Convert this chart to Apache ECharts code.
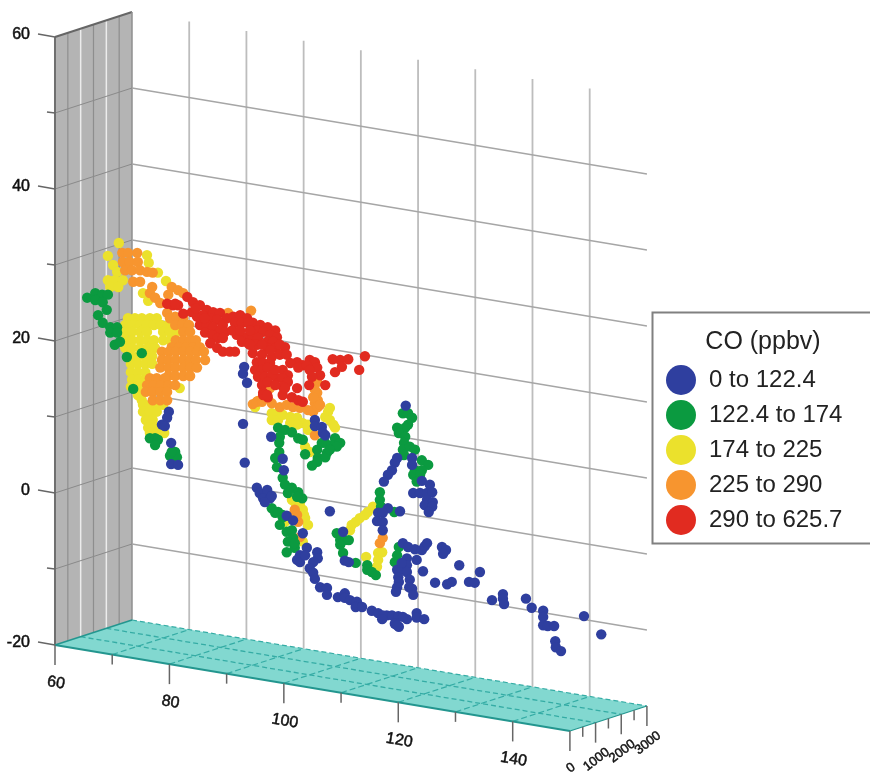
<!DOCTYPE html>
<html><head><meta charset="utf-8">
<style>html,body{margin:0;padding:0;background:#fff}#c{width:870px;height:775px}</style>
<script src="https://cdn.jsdelivr.net/npm/echarts@6/dist/echarts.min.js"></script>
</head><body><div id="c"></div>
<script>
// Axis ticks
const lonTicks=[60,70,80,90,100,110,120,130,140,150];
const lonLabels=[60,80,100,120,140];
const latTicks=[-20,-10,0,10,20,30,40,50,60];
const latLabels=[-20,0,20,40,60];
const altTicks=[0,500,1000,1500,2000,2500,3000];
const altLabels=[0,1000,2000,3000];
const legendNames=['0 to 122.4','122.4 to 174','174 to 225','225 to 290','290 to 625.7'];
// CO samples: [longitude, latitude]
const coBlue=[[120.5,-6.6],[121.4,-7.1],[122.6,-7.4],[123.8,-7.5],[124.3,-7],[124.7,-6.6],[127.3,-7.1],[128,-7.5],[127.5,-8],[130.3,-9.5],[133.9,-10.4],[126.1,-11.8],[128.2,-12],[129,-11.7],[132,-11.7],[133,-11.8],[136,-14.1],[137.9,-13.3],[137.9,-13.9],[138.1,-14.6],[141.9,-13.9],[142.9,-15.1],[144.9,-15.5],[144.9,-16.3],[144.9,-17.4],[145.7,-17.5],[146.8,-17.5],[152,-16.2],[155,-18.6],[147,-19.5],[147.1,-20.3],[148,-20.8],[122.9,-8.8],[124,-10.3],[121.2,-8.6],[121.2,-9.5],[119.5,-10.1],[120.3,-10.1],[121.2,-10.4],[119.7,-11.1],[119.8,-11.7],[119.5,-12.4],[119.3,-13],[121.7,-11.4],[121.6,-12.4],[122.1,-12.6],[122.3,-13.4],[120.3,-9.2],[117.7,-16.1],[118.6,-16.1],[119.7,-16.2],[121.2,-16.6],[119.1,-17.2],[119.8,-17.6],[122.9,-15.8],[122.9,-16.4],[124.2,-16.6],[106.1,-12.4],[107.3,-12.5],[107.3,-13.4],[109.2,-13.7],[110.4,-13.2],[110.4,-13.8],[111.3,-14.1],[112.5,-14.3],[112.3,-15],[113.4,-15],[115.1,-15.5],[116.2,-15.8],[117,-16.1],[116.9,-16.6],[120.5,-16.3],[119.5,-17.4],[102.6,-8.2],[102.1,-8.8],[103.8,-7.2],[105.6,-7.8],[105.7,-8.6],[104.9,-9.1],[104.3,-9.9],[104.9,-10.5],[105.2,-11.3],[102.6,-9.1],[103.5,-8.2],[103.1,-5.3],[107.8,-2.4],[100.3,-3],[101.4,-3.6],[92.7,9.1],[97.6,7.4],[93,4],[99.6,4.5],[99.8,3],[92.9,16.6],[92.7,15.7],[93.4,14.5],[95.1,0.7],[95.6,0],[96.9,0.4],[96.2,-0.7],[97.4,-0.7],[96.5,-1.2],[97.7,-0.4],[105.2,9.6],[105.2,8.8],[106.4,8.7],[106.6,7.9],[107,7.6],[110.1,-5.1],[110.4,-8.9],[111.1,-9.1],[121,11.5],[119.5,4.6],[119.1,4],[118.6,3],[117.9,2.4],[117.2,1.5],[122.1,4.6],[122.1,3.7],[123.8,1.6],[125.2,1.1],[122.3,0],[123.5,0],[124.7,0],[125.6,0.1],[124.7,-0.9],[125.7,-1.2],[124.3,-1.6],[125.6,-1.8],[125,-2.5],[117.9,-2],[116.2,-2.6],[117,-2.6],[116,-3.7],[117,-3.8],[117,-4.9],[120,-2.4],[79.8,10.7],[79.5,9.9],[78.6,9],[79.1,8.8],[80.2,6.6],[80.2,3.8],[81.4,3.7]];
const coGreen=[[65.6,25.7],[67,26.3],[68.2,26.1],[69.2,26.1],[67,25.4],[68.3,25.1],[69,24.1],[67.5,23.4],[68.3,22.4],[69.6,21.8],[70.8,21.8],[69.6,21.1],[70.8,21.1],[70.4,19.5],[71.3,19.9],[72.5,17.9],[75.1,18.4],[73.6,13.7],[76.5,7.2],[77.4,7.2],[77.9,7],[77.4,6.3],[80.9,5.4],[80,4.9],[81.2,4.7],[80.3,5.4],[98.8,8.6],[100,8.3],[101.2,8],[102.3,7.2],[103.1,7],[99.1,7.4],[99,6.6],[99,5.4],[98.3,4.6],[98.6,3.4],[99.6,2],[100,1.1],[101.2,0.7],[102.3,0.1],[103,-0.7],[100.5,0],[102.1,-0.5],[97.7,-2],[98.3,-2.6],[99.6,-2.9],[98.8,-2.5],[99.6,-3.2],[99.1,-4.2],[100.3,-5.1],[101.2,-4.9],[101.4,-5.9],[100.5,-6.4],[101.7,-7.2],[100.3,-7.8],[101.7,-6.6],[103.5,5.1],[108.7,7.2],[109.6,6.6],[108.2,6.3],[107,6.6],[105.6,5.7],[107.3,5.3],[105.7,4.6],[107,4.7],[105.6,4.1],[104.7,3.6],[106.4,6.6],[109,6.1],[107.8,5.7],[109,-5.3],[109.6,-6.2],[110.4,-6.2],[111.1,-6.2],[109.6,-6.8],[110.1,-7.9],[112.3,-9.2],[119,-2.5],[116.5,0.1],[116.5,-0.9],[116.7,-1.8],[114.3,-9.5],[114.3,-10.1],[115.1,-10.4],[115.8,-10.8],[119.8,-7.1],[119.5,-8.2],[119.1,-9.1],[120.5,10.5],[121.4,10.5],[122.1,9.9],[121.4,9],[120.9,8.6],[119.5,8.6],[119.8,7.9],[120.9,7.4],[120.7,6.6],[120.5,5.7],[121.7,6.1],[122.6,5.7],[120.7,5],[123.8,4.3],[124.9,3.7],[122.6,3],[123.8,3],[122.3,2.4],[123.5,2.4],[122.9,1.5]];
const coYellow=[[71.1,32.9],[69.2,31.2],[70.1,30],[70.8,29.1],[69.2,28],[70.4,28],[71.8,28],[69.6,27.1],[71,27.1],[76,31.3],[76.3,30.3],[77.9,29],[79.3,27.9],[75.3,26.3],[76.2,25.3],[72.7,23],[73.9,23],[75.1,23],[76.5,23],[77.7,23],[72.2,22.1],[73.4,22.1],[74.8,22.1],[76,22.1],[77.2,22.1],[78.4,22.1],[79.7,22.1],[72.2,21.2],[73.4,21.2],[74.8,21.2],[76,21.2],[78.8,21.2],[80,21.2],[81.2,21.2],[72.2,20.1],[73.4,20.1],[74.8,20.1],[76,20.1],[77.2,20.1],[78.8,20.1],[80,20.1],[72.2,19.1],[73.4,19.1],[74.8,19.1],[76.2,19.1],[77.4,19.1],[73.2,18],[74.4,18],[75.7,18],[76.9,18],[73.2,17],[74.4,17],[75.7,17],[76.9,17],[73.2,15.9],[74.4,15.9],[75.7,15.9],[73.4,14.9],[74.6,14.9],[75.8,14.9],[73.2,14],[74.4,14],[74.4,12.9],[75.1,12.2],[75.3,11.6],[76.5,11.6],[77.7,11.6],[78.8,11.6],[75.3,10.7],[76.5,10.7],[77.7,10.7],[75.8,9.6],[77,9.6],[76.2,8.6],[77.4,8.6],[78.4,8.6],[76.5,7.9],[77.7,7.9],[79,7.9],[81.7,13.8],[94.8,11.3],[97.7,10.5],[98.8,10.5],[97.7,9.6],[98.8,9.6],[99.6,10.3],[100.9,10],[102.1,9.9],[103.1,9.2],[100.9,9.2],[102.1,9],[104,8.3],[104,9],[107.5,10.7],[107,10],[107.8,9.6],[108.4,9],[108.7,8.6],[103.5,6.1],[104.3,5.4],[107.8,11.2],[101.2,-0.9],[101.7,-1.2],[102.6,-1.3],[100,-3.8],[103.5,-3.3],[104,-4.2],[103.1,-2.2],[103.3,-2.9],[103.1,-6.4],[111.6,-4.2],[111.3,-4.9],[113,-3.3],[113.9,-2.9],[114.4,-2.5],[115.3,-1.8],[112.3,-3.8],[114.1,-8.4],[116.2,-7.9],[116.2,-8.8],[116,-9.7],[116.9,-7.8]];
const coOrange=[[71.7,31.6],[72.7,31.6],[74.3,31.6],[71.8,30.4],[73,30.4],[74.4,30.4],[72.2,29.3],[73.4,29.3],[74.8,29.3],[76,29.1],[77,29],[73.6,27.8],[74.8,27.8],[76.9,27.1],[76.5,26.3],[77.4,25.7],[80.3,27.1],[81.4,26.7],[82.3,26.3],[79.7,26.1],[78.3,25],[79.5,23.7],[80.9,23.2],[82.1,22.4],[90.1,23.7],[94.1,24],[80,23],[81.2,23],[82.3,23],[80.9,22.1],[82.1,22.1],[83.3,22.1],[82.3,21.2],[83.5,21.2],[81,20.1],[82.3,20.1],[83.5,20.1],[84.5,20.1],[80.3,19.2],[81.6,19.2],[82.8,19.2],[84,19.2],[85.2,19.2],[78.6,18.6],[79.8,18.6],[81,18.6],[82.3,18.6],[83.5,18.6],[84.7,18.6],[85.9,18.6],[78.6,17.5],[79.7,17.5],[81,17.5],[82.3,17.5],[83.5,17.5],[84.5,17.5],[86.1,17.5],[78.3,16.5],[79.7,16.5],[80.9,16.5],[82.3,16.5],[83.5,16.5],[84.7,16.5],[79.7,15.4],[80.9,15.4],[82.3,15.4],[83.5,15.4],[76.5,15.1],[77.7,15.1],[79.1,15.1],[76,14.2],[77.2,14.2],[78.4,14.2],[79.7,14.2],[80.9,14.2],[75.8,13.3],[77,13.3],[78.3,13.3],[79.5,13.3],[77,12.2],[78.3,12.2],[79.5,12.2],[94.4,11.7],[95.3,12.1],[97.7,11.8],[99.1,11.3],[100.3,11.6],[101.4,11.3],[102.6,11.2],[104,10.9],[105.2,11.8],[105.7,12.2],[104.9,10.7],[105.7,11.3],[105.6,13.2],[97.4,13.8],[95.1,12],[96,12],[105.6,14.6],[105.2,13.6],[104.9,12.6],[106.1,11.6],[105.2,7.6],[101.7,-2.2],[101.4,-2.9],[102.3,-3.8],[102.6,-5.8],[102.1,-2.9],[116.5,-6.6],[117,-5.9]];
const coRed=[[83,25.8],[84,25.1],[85.2,24.7],[86.4,24.1],[87.5,23.8],[88.7,23.7],[89.9,23],[91,23.2],[92.2,23.4],[93.4,23],[94.4,22.4],[95.7,22.1],[97,21.8],[98.3,21.4],[84.7,23.2],[85.7,23.4],[87,23],[88.2,22.8],[89.2,22.1],[91.3,22.4],[92.5,22.4],[93.6,22.4],[95.1,21.4],[96.2,21.2],[97.4,20.8],[98.6,20.5],[85.2,22.1],[86.4,22.1],[87.5,21.8],[88.7,21.4],[89.6,21.2],[91.6,20.8],[93,20.5],[94.4,20.5],[95.3,20.4],[96.9,19.9],[97.9,19.9],[86.1,21.1],[87.3,20.8],[88.3,20.4],[89.2,20.4],[92.5,19.9],[93.6,19.7],[95.1,19.5],[97,19.1],[98.3,19.1],[100,19.2],[87,19.7],[88.2,19.1],[89.2,18.6],[90.4,18.6],[91.3,18.6],[94.4,18.4],[96,18.2],[97.7,17.9],[99.1,18.2],[100.3,18.2],[95.1,17.2],[96.2,17.1],[97.4,17.1],[102.1,17.2],[103.1,16.8],[104.3,17.5],[105.2,17.2],[100.9,17.1],[94.8,16.2],[96,16.2],[97,16.5],[99.6,16.2],[100.5,15.5],[102.3,16.5],[103.8,16.8],[105.6,16.5],[106.1,15.5],[95.3,15.3],[96.5,15.3],[98.6,15.1],[99.6,15.1],[100.5,14.6],[96,14.2],[99.6,14],[96.2,13.2],[97,12.6],[99.6,12.9],[100,13.8],[101.2,12.6],[102.1,13.8],[102.3,12.2],[103.1,12],[104.2,14.2],[107,14.2],[108.3,17.6],[109.6,17.5],[109.9,16.6],[108.7,15.9],[111,17.6],[112.9,16.2],[113.9,18],[80.5,24.7],[81.4,24.7],[82.3,23.6],[79.5,24.9],[80.9,24.9],[96.2,12.9],[96.9,12.9],[86,23],[83.8,23.8],[84.5,24.3],[90.8,21.4],[92.2,21.4],[93.9,21.4],[97.4,18.8],[99.1,19.5],[96,19.5],[93.9,19.5],[97.7,15.5],[97,14.6],[98.3,14.2],[98.3,16.2],[104.3,16.2],[104.7,15.3]];

// Axonometric projection of (lon, lat, altitude) onto the picture plane
function project(lon,lat,alt){
  return [60+0.995*(lon-60)+0.004464*alt, lat-0.1257*(lon-60)+0.001096*alt];
}
const F='"Liberation Sans",Arial,sans-serif';
const shapes=[];
const poly=(pts,fill)=>shapes.push({k:'poly',pts,fill});
const line=(a,b,color,w,dash,off)=>shapes.push({k:'line',a,b,color,w,dash,off});
const text=(a,dx,dy,str,size,rot,align)=>shapes.push({k:'text',a,dx,dy,str,size,rot,align});
const LON0=60,LON1=150,LAT0=-20,LAT1=60,ALT1=3000;
// grey side wall
poly([[LON0,LAT0,0],[LON0,LAT0,ALT1],[LON0,LAT1,ALT1],[LON0,LAT1,0]],'#b4b4b4');
altTicks.filter(a=>a>0&&a<ALT1).forEach(a=>line([LON0,LAT0,a],[LON0,LAT1,a],a%1000===0?'#ececec':'#8e8e8e',a%1000===0?1.5:1.2));
latTicks.filter(l=>l>LAT0&&l<LAT1).forEach(l=>line([LON0,l,0],[LON0,l,ALT1],'#8a8a8a',1));
line([LON0,LAT0,0],[LON0,LAT1,0],'#6f6f6f',2);
line([LON0,LAT1,0],[LON0,LAT1,ALT1],'#666',2);
line([LON0,LAT0,ALT1],[LON0,LAT1,ALT1],'#8f8f8f',1.5);
// back wall grid
lonTicks.filter(l=>l>LON0&&l<LON1).forEach(l=>line([l,LAT0,ALT1],[l,LAT1,ALT1],'#bdbdbd',1.8));
latTicks.filter(l=>l>LAT0&&l<LAT1).forEach(l=>line([LON0,l,ALT1],[LON1,l,ALT1],'#a6a6a6',1.5));
// teal floor
poly([[LON0,LAT0,0],[LON1,LAT0,0],[LON1,LAT0,ALT1],[LON0,LAT0,ALT1]],'#82d8d0');
[1000,2000].forEach(a=>line([LON0,LAT0,a],[LON1,LAT0,a],'#35aca5',1.3,[5,3]));
line([LON0,LAT0,ALT1],[LON1,LAT0,ALT1],'#35aca5',1.2,[5,3]);
lonTicks.filter(l=>l>LON0&&l<LON1).forEach(l=>line([l,LAT0,0],[l,LAT0,ALT1],'#35aca5',1.2,[6,3]));
line([LON0,LAT0,0],[LON1,LAT0,0],'#23968f',2);
line([LON0,LAT0,0],[LON0,LAT0,ALT1],'#23968f',1.6);
line([LON1,LAT0,0],[LON1,LAT0,ALT1],'#23968f',1.2);
// ticks and their labels
latTicks.forEach(l=>{const major=latLabels.includes(l);
  line([LON0,l,0],[LON0,l,0],'#666',1.5,null,{x:major?-17:-8,y:major?-3:-1});});
latLabels.forEach(l=>text([LON0,l,0],-25,-2,String(l),16,0,'right'));
lonTicks.forEach(l=>{const major=lonLabels.includes(l)||l===LON1;
  line([l,LAT0,0],[l,LAT0,0],'#666',1.5,null,{x:0,y:major?20:10});});
lonLabels.forEach(l=>text([l,LAT0,0],1,38,String(l),16,-0.17,'center'));
altTicks.filter(a=>a>0).forEach(a=>{const major=altLabels.includes(a);
  line([LON1,LAT0,a],[LON1,LAT0,a],'#666',1.5,null,{x:0,y:major?20:10});});
altLabels.forEach(a=>text([LON1,LAT0,a],1,37,String(a),13,0.66,'center'));

function renderFrame(params,api){
  const s=shapes[params.dataIndex];
  const c=a=>api.coord(project(a[0],a[1],a[2]));
  if(s.k==='poly') return {type:'polygon',shape:{points:s.pts.map(c)},style:{fill:s.fill}};
  if(s.k==='line'){
    const p=c(s.a),q=c(s.b);
    if(s.off){q[0]+=s.off.x;q[1]+=s.off.y;}
    return {type:'line',shape:{x1:p[0],y1:p[1],x2:q[0],y2:q[1]},style:{stroke:s.color,lineWidth:s.w,lineDash:s.dash||null,fill:null}};
  }
  const p=c(s.a);
  return {type:'text',x:p[0]+s.dx,y:p[1]+s.dy,rotation:s.rot,style:{text:s.str,fill:'#111',stroke:'#111',lineWidth:0.5,font:s.size+'px '+F,align:s.align,verticalAlign:'middle'}};
}
const dotSize=10.4;
const scatter=(name,data,color,z)=>({type:'scatter',name,data,symbol:'circle',symbolSize:dotSize,z,
  itemStyle:{color,opacity:1},silent:true,animation:false});
const chart=echarts.init(document.getElementById('c'),null,{renderer:'canvas'});
chart.setOption({
  animation:false,backgroundColor:'#fff',
  grid:{left:0,right:0,top:0,bottom:0,containLabel:false},
  xAxis:{type:'value',min:50.435,max:201.74,show:false},
  yAxis:{type:'value',min:-37.105,max:64.868,show:false},
  legend:{show:true,orient:'vertical',left:661,top:360,itemWidth:30,itemHeight:30,itemGap:5,icon:'circle',z:20,
    data:legendNames,selectedMode:false,
    textStyle:{fontFamily:F,fontSize:24,color:'#222',padding:[0,0,0,8]}},
  graphic:[
    {type:'rect',z:15,shape:{x:652.5,y:312.5,width:240,height:231},style:{fill:'#fff',stroke:'#808080',lineWidth:2}},
    {type:'text',z:16,x:763,y:342,style:{text:'CO (ppbv)',font:'25px '+F,fill:'#222',align:'center',verticalAlign:'middle'}}
  ],
  series:[
    {type:'custom',name:'frame',renderItem:renderFrame,data:shapes.map((_,i)=>i),z:1,silent:true,clip:false,animation:false},
    scatter(legendNames[0],coBlue,'#2f3f9f',7),
    scatter(legendNames[1],coGreen,'#0b9a40',6),
    scatter(legendNames[2],coYellow,'#ebe12c',3),
    scatter(legendNames[3],coOrange,'#f7952f',4),
    scatter(legendNames[4],coRed,'#e12b20',5)
  ]
});
</script></body></html>
